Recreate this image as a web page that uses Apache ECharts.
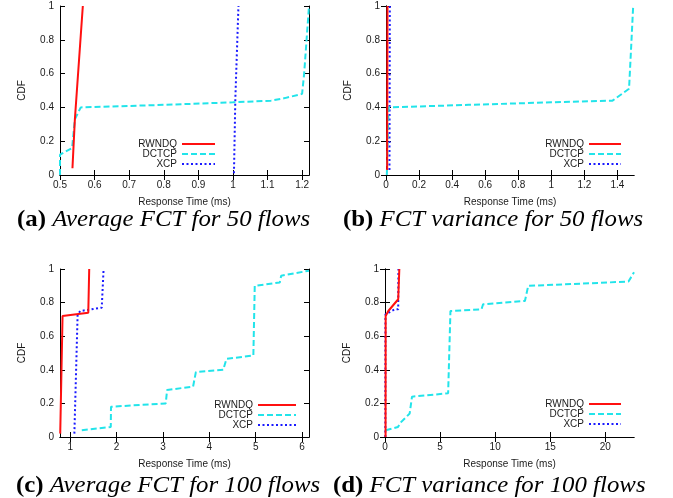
<!DOCTYPE html>
<html><head><meta charset="utf-8">
<script src="https://cdn.jsdelivr.net/npm/echarts@6/dist/echarts.min.js"></script>
<style>html,body{margin:0;padding:0;background:#fff}#c{width:673px;height:498px}</style>
</head><body><div id="c"></div>
<script>
// ---------- data ----------
const seriesNames = ['RWNDQ', 'DCTCP', 'XCP'];
const yTicks = [0, 0.2, 0.4, 0.6, 0.8, 1];

const xTicksA = [0.5, 0.6, 0.7, 0.8, 0.9, 1, 1.1, 1.2];
const xTicksB = [0, 0.2, 0.4, 0.6, 0.8, 1, 1.2, 1.4];
const xTicksC = [1, 2, 3, 4, 5, 6];
const xTicksD = [0, 5, 10, 15, 20];

const xRangeA = [0.5, 1.22];
const xRangeB = [0, 1.5];
const xRangeC = [0.78, 6.15];
const xRangeD = [0, 22.6];

// (a) Average FCT for 50 flows
const rwndqA = [[0.536, 0.04], [0.543, 0.33], [0.566, 1.0]];
const dctcpA = [[0.5, 0], [0.5, 0.12], [0.535, 0.16], [0.543, 0.33], [0.56, 0.40], [0.8, 0.415], [1.0, 0.43], [1.11, 0.44], [1.15, 0.455], [1.2, 0.48], [1.206, 0.6], [1.213, 0.8], [1.22, 1.0]];
const xcpA = [[1.003, 0.01], [1.007, 0.45], [1.016, 1.0]];

// (b) FCT variance for 50 flows
const rwndqB = [[0.007, 0.03], [0.008, 0.5], [0.009, 1.0]];
const dctcpB = [[0.005, 0], [0.01, 0.2], [0.016, 0.40], [0.5, 0.415], [1.0, 0.43], [1.37, 0.44], [1.47, 0.51], [1.485, 0.8], [1.495, 1.0]];
const xcpB = [[0.021, 0.03], [0.022, 0.5], [0.023, 1.0]];

// (c) Average FCT for 100 flows
const rwndqC = [[0.785, 0.02], [0.835, 0.72], [1.39, 0.74], [1.41, 1.0]];
const dctcpC = [[1.25, 0.04], [1.875, 0.06], [1.88, 0.18], [3.06, 0.20], [3.09, 0.28], [3.65, 0.30], [3.71, 0.386], [4.3, 0.40], [4.37, 0.465], [4.95, 0.485], [4.98, 0.90], [5.52, 0.92], [5.55, 0.96], [6.15, 0.99]];
const xcpC = [[1.09, 0.02], [1.16, 0.73], [1.22, 0.75], [1.68, 0.77], [1.72, 1.0]];

// (d) FCT variance for 100 flows
const rwndqD = [[0.05, 0], [0.06, 0.72], [0.3, 0.75], [1.2, 0.82], [1.3, 1.0]];
const dctcpD = [[0.06, 0.04], [1.18, 0.06], [1.48, 0.09], [2.24, 0.14], [2.45, 0.24], [5.73, 0.26], [5.94, 0.75], [8.76, 0.76], [8.9, 0.79], [12.7, 0.81], [13.0, 0.90], [22.1, 0.925], [22.6, 0.98]];
const xcpD = [[0.03, 0], [0.04, 0.73], [0.9, 0.76], [1.2, 0.76], [1.2, 0.8], [1.22, 1.0]];

const captionTags = ['(a)', '(b)', '(c)', '(d)'];
const captionTexts = ['Average FCT for 50 flows', 'FCT variance for 50 flows', 'Average FCT for 100 flows', 'FCT variance for 100 flows'];
const xAxisName = 'Response Time (ms)';
const yAxisName = 'CDF';

// ---------- layout / style ----------
const panels = [
  {grid: {left: 60, top: 6, width: 249, height: 169}, ticks: xTicksA, range: xRangeA, data: [rwndqA, dctcpA, xcpA],
   legend: {right: 457, top: 139, itemWidth: 33}, caption: {x: 17, y: 220}},
  {grid: {left: 386, top: 6, width: 248, height: 169}, ticks: xTicksB, range: xRangeB, data: [rwndqB, dctcpB, xcpB],
   legend: {right: 51, top: 139, itemWidth: 32}, caption: {x: 343, y: 220}},
  {grid: {left: 60, top: 269, width: 249, height: 168}, ticks: xTicksC, range: xRangeC, data: [rwndqC, dctcpC, xcpC],
   legend: {right: 376, top: 400, itemWidth: 38}, caption: {x: 16, y: 486}},
  {grid: {left: 385, top: 269, width: 249, height: 168}, ticks: xTicksD, range: xRangeD, data: [rwndqD, dctcpD, xcpD],
   legend: {right: 51, top: 399, itemWidth: 32}, caption: {x: 333, y: 486}}
];

const lineStyles = [
  {color: '#ff1010', width: 2, type: 'solid'},
  {color: '#22e4ea', width: 2, type: [6, 3]},
  {color: '#1a1aff', width: 2, type: [2, 2.5]}
];

const sans = 'Liberation Sans';
const serif = '"Liberation Serif"';
const txt = '#1a1a1a';
const capSize = 23;

const grids = [], xAxes = [], yAxes = [], series = [], legends = [], graphics = [];
panels.forEach((p, i) => {
  grids.push(Object.assign({containLabel: false}, p.grid));
  const axLine = {show: true, lineStyle: {color: '#000', width: 1}};
  const tick = (vals) => ({show: true, inside: true, length: 5, lineStyle: {color: '#000'}, customValues: vals});
  xAxes.push({type: 'value', gridIndex: i, position: 'bottom', min: p.range[0], max: p.range[1],
    axisLine: axLine, axisTick: tick(p.ticks), splitLine: {show: false},
    axisLabel: {customValues: p.ticks, margin: 5, fontFamily: sans, fontSize: 10, color: txt},
    name: xAxisName, nameLocation: 'middle', nameGap: 22,
    nameTextStyle: {fontFamily: sans, fontSize: 10, color: txt}});
  xAxes.push({type: 'value', gridIndex: i, position: 'top', min: p.range[0], max: p.range[1],
    axisLine: axLine, axisTick: tick(p.ticks), splitLine: {show: false}, axisLabel: {show: false}});
  yAxes.push({type: 'value', gridIndex: i, position: 'left', min: 0, max: 1,
    axisLine: axLine, axisTick: tick(yTicks), splitLine: {show: false},
    axisLabel: {customValues: yTicks, margin: 6, fontFamily: sans, fontSize: 10, color: txt},
    name: yAxisName, nameLocation: 'middle', nameGap: 33, nameRotate: 90,
    nameTextStyle: {fontFamily: sans, fontSize: 10, color: txt}});
  yAxes.push({type: 'value', gridIndex: i, position: 'right', min: 0, max: 1,
    axisLine: axLine, axisTick: tick(yTicks), splitLine: {show: false}, axisLabel: {show: false}});

  seriesNames.forEach((name, k) => {
    series.push({type: 'line', name: name, xAxisIndex: 2 * i, yAxisIndex: 2 * i,
      data: p.data[k], symbol: 'none', showSymbol: false, animation: false,
      lineStyle: lineStyles[k], itemStyle: {color: lineStyles[k].color}, z: 3 - k});
  });

  legends.push({data: seriesNames, orient: 'vertical', align: 'right', right: p.legend.right, top: p.legend.top,
    padding: 0, itemGap: 0, itemWidth: p.legend.itemWidth, itemHeight: 10, selectedMode: false,
    itemStyle: {opacity: 0},
    textStyle: {fontFamily: sans, fontSize: 10, color: txt, lineHeight: 10}});

  graphics.push({type: 'text', x: p.caption.x, y: p.caption.y, scaleX: 1.08, scaleY: 1,
    style: {text: '{b|' + captionTags[i] + '} {i|' + captionTexts[i] + '}',
      font: capSize + 'px ' + serif, fill: '#000', verticalAlign: 'middle', align: 'left',
      rich: {b: {font: 'bold ' + capSize + 'px ' + serif, fill: '#000'},
             i: {font: 'italic ' + capSize + 'px ' + serif, fill: '#000'}}}});
});

const chart = echarts.init(document.getElementById('c'), null, {renderer: 'canvas'});
chart.setOption({
  animation: false,
  backgroundColor: '#fff',
  grid: grids,
  xAxis: xAxes,
  yAxis: yAxes,
  legend: legends,
  series: series,
  graphic: graphics
});
</script>
</body></html>
